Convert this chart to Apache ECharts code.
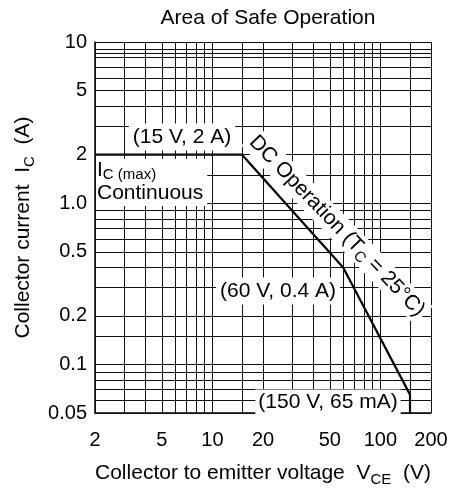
<!DOCTYPE html>
<html><head><meta charset="utf-8">
<script src="https://cdn.jsdelivr.net/npm/echarts@6/dist/echarts.min.js"></script>
<style>html,body{margin:0;padding:0;background:#fff}#c{width:459px;height:492px}</style>
</head><body><div id="c"></div>
<script>
// SOA boundary (V_CE in volts, I_C in amperes)
const soaVoltage = [2, 15, 60, 150, 150];
const soaCurrent = [2, 2, 0.4, 0.065, 0.05];
// Tick labels
const xTickLabels = [2, 5, 10, 20, 50, 100, 200];
const yTickLabels = [0.05, 0.1, 0.2, 0.5, 1, 2, 5, 10];
// Grid lines
const xGridValues = [2, 3, 4, 5, 6, 7, 8, 9, 10, 15, 20, 30, 40, 50, 60, 70, 80, 90, 100, 150, 200];
const yGridValues = [0.05, 0.06, 0.07, 0.08, 0.09, 0.1, 0.15, 0.2, 0.3, 0.4, 0.5, 0.6, 0.7, 0.8, 0.9, 1, 1.5, 2, 3, 4, 5, 6, 7, 8, 8.5, 9, 10];

const FONT = '"Liberation Sans", Arial, Helvetica, sans-serif';
const FS = 20;   // tick labels
const FT = 21;   // titles and annotations
const FSUB = 15;

function nearest(arr, v) {
  let best = arr[0];
  for (const a of arr) if (Math.abs(Math.log(a) - Math.log(v)) < Math.abs(Math.log(best) - Math.log(v))) best = a;
  return best;
}

const chart = echarts.init(document.getElementById('c'), null, { renderer: 'canvas' });

const gridLineData = [];
xGridValues.forEach(v => gridLineData.push({ xAxis: v }));
yGridValues.forEach(v => gridLineData.push({ yAxis: v }));

const subRich = {
  n: { fontFamily: FONT, fontSize: FT, color: '#000', lineHeight: 28, verticalAlign: 'middle' },
  s: { fontFamily: FONT, fontSize: FSUB, color: '#000', lineHeight: 15, verticalAlign: 'bottom' }
};

const option = {
  animation: false,
  backgroundColor: '#fff',
  title: {
    text: 'Area of Safe Operation',
    left: 263, top: 3, textAlign: 'center',
    textStyle: { fontFamily: FONT, fontSize: FT, fontWeight: 'normal', color: '#000' }
  },
  grid: { left: 95, right: 28, top: 42, bottom: 75, containLabel: false },
  xAxis: {
    type: 'log', logBase: 10, min: 2, max: 200,
    name: '{n|Collector to emitter voltage  V}{s|CE}{n|  (V)}',
    nameLocation: 'middle', nameGap: 46,
    nameTextStyle: { rich: subRich },
    axisLine: { show: true, lineStyle: { color: '#000', width: 1.5 } },
    axisTick: { show: false },
    splitLine: { show: false },
    minorSplitLine: { show: false },
    axisLabel: {
      customValues: xTickLabels,
      fontFamily: FONT, fontSize: FS, color: '#000', margin: 17,
      formatter: v => String(nearest(xTickLabels, v))
    }
  },
  yAxis: {
    type: 'log', logBase: 10, min: 0.05, max: 10,
    name: '{n|Collector current  I}{s|C}{n|  (A)}',
    nameLocation: 'middle', nameGap: 58, nameRotate: 90,
    nameTextStyle: { rich: subRich },
    axisLine: { show: true, lineStyle: { color: '#000', width: 1.5 } },
    axisTick: { show: false },
    splitLine: { show: false },
    axisLabel: {
      customValues: yTickLabels,
      fontFamily: FONT, fontSize: FS, color: '#000', margin: 8,
      formatter: v => { const n = nearest(yTickLabels, v); return n === 1 ? '1.0' : String(n); }
    }
  },
  series: [
    {
      name: 'grid', type: 'line', data: [], z: 1, silent: true,
      markLine: {
        silent: true, symbol: ['none', 'none'], animation: false,
        label: { show: false },
        lineStyle: { color: '#111', width: 1, type: 'solid' },
        emphasis: { disabled: true },
        data: gridLineData
      }
    },
    {
      name: 'SOA', type: 'line', z: 3, symbol: 'none', silent: true,
      lineStyle: { color: '#000', width: 2.2 },
      data: soaVoltage.map((v, i) => [v, soaCurrent[i]])
    }
  ],
  graphic: [
    {
      type: 'text', x: 182, y: 137, z: 100,
      style: { text: '(15 V, 2 A)', font: FT + 'px ' + FONT, fill: '#000', align: 'center', verticalAlign: 'middle',
        backgroundColor: '#fff', padding: [3, 4, 3, 4] }
    },
    {
      type: 'text', x: 96, y: 159, z: 100,
      style: {
        text: '{n|I}{s|C (max)}\n{n|Continuous}',
        align: 'left', verticalAlign: 'top', backgroundColor: '#fff', padding: [0, 4, 1, 1],
        rich: {
          n: { font: FT + 'px ' + FONT, fill: '#000', lineHeight: 23, verticalAlign: 'middle' },
          s: { font: FSUB + 'px ' + FONT, fill: '#000', lineHeight: 15, verticalAlign: 'bottom' }
        }
      }
    },
    {
      type: 'text', x: 337, y: 226, z: 100, rotation: -46 * Math.PI / 180,
      style: {
        text: '{n|DC Operation (T}{s|C}{n| = 25°C)}',
        align: 'center', verticalAlign: 'middle', backgroundColor: '#fff', padding: [0, 3, 0, 3],
        rich: {
          n: { font: FT + 'px ' + FONT, fill: '#000', lineHeight: 26, verticalAlign: 'middle' },
          s: { font: FSUB + 'px ' + FONT, fill: '#000', lineHeight: 15, verticalAlign: 'bottom' }
        }
      }
    },
    {
      type: 'text', x: 278, y: 291, z: 100,
      style: { text: '(60 V, 0.4 A)', font: FT + 'px ' + FONT, fill: '#000', align: 'center', verticalAlign: 'middle',
        backgroundColor: '#fff', padding: [3, 4, 3, 4] }
    },
    {
      type: 'text', x: 328, y: 402, z: 100,
      style: { text: '(150 V, 65 mA)', font: FT + 'px ' + FONT, fill: '#000', align: 'center', verticalAlign: 'middle',
        backgroundColor: '#fff', padding: [2, 3, 2, 3] }
    }
  ]
};
chart.setOption(option);
</script>
</body></html>
